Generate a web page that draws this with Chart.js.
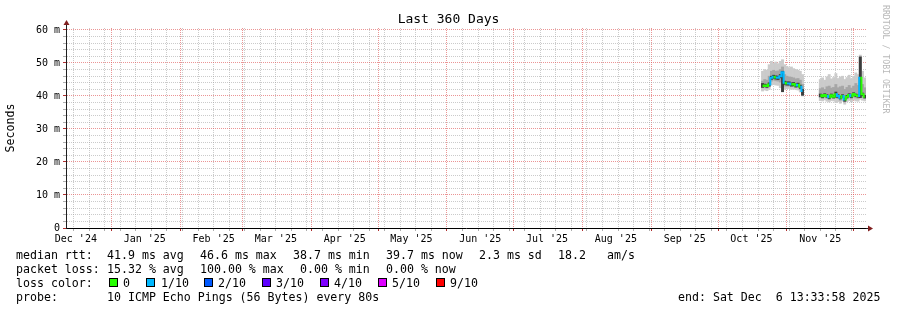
<!DOCTYPE html>
<html><head><meta charset="utf-8">
<script src="https://cdn.jsdelivr.net/npm/chart.js@4.4.1/dist/chart.umd.min.js"></script>
<style>
html,body{margin:0;padding:0;background:#fff;}
#wrap{position:relative;width:897px;height:310px;overflow:hidden;font-family:"DejaVu Sans Mono",monospace;color:#000;}
#c{position:absolute;left:0;top:0;}
.t{position:absolute;white-space:pre;font-size:11.6px;line-height:14px;}
.title{position:absolute;left:0;width:897px;text-align:center;top:11px;font-size:13px;line-height:16px;white-space:pre;}
.credit{position:absolute;left:881px;top:5px;writing-mode:vertical-rl;font-size:8.2px;line-height:9px;color:#b8b8b8;white-space:pre;}
.sq{position:absolute;width:9px;height:9px;border:1px solid #000;box-sizing:border-box;top:278px;}
</style>
</head>
<body>
<div id="wrap">
<canvas id="c" width="897" height="310"></canvas>
<div class="title">Last 360 Days</div>
<div class="credit">RRDTOOL / TOBI OETIKER</div>
<div id="legend"></div>
</div>
<script>
// ---- axis / tick data (x = days since 1 Jan 2025) ----
const X_MIN = -20.435;            // Wed Dec 11 13:33:58 2024
const X_MAX = 339.565;            // Sat Dec  6 13:33:58 2025
const Y_MAX = 60.6;
const monthStartDays = [0, 31, 59, 90, 120, 151, 181, 212, 243, 273, 304, 334];
const monthLabelDays = [-16, 15, 46, 74, 105, 135, 166, 196, 227, 258, 288, 319];
const monthLabels = ["Dec '24", "Jan '25", "Feb '25", "Mar '25", "Apr '25", "May '25", "Jun '25", "Jul '25", "Aug '25", "Sep '25", "Oct '25", "Nov '25"];
const yLabelValues = [0, 10, 20, 30, 40, 50, 60];
const yLabels = ["0", "10 m", "20 m", "30 m", "40 m", "50 m", "60 m"];

// ---- series: segment 1 (late Oct - early Nov) ----
const days1   = [293, 294, 295, 296, 297, 298, 299, 300, 301, 302, 303, 304, 305, 306, 307, 308, 309, 310, 311];
const median1 = [43.0, 43.2, 43.0, 43.5, 45.5, 45.8, 45.6, 45.5, 46.0, 47.2, 44.0, 43.8, 43.8, 43.5, 43.6, 43.2, 43.4, 42.8, 41.5];
const loss1   = [0, 0, 0, 0, 1, 1, 0, 1, 1, 1, 1, 0, 1, 1, 0, 0, 1, 0, 1];
const max1    = [47.5, 48.0, 47.8, 49.5, 50.5, 50.0, 50.3, 49.8, 50.5, 51.0, 49.5, 49.0, 48.6, 48.8, 48.3, 48.0, 47.8, 47.5, 46.5];
const min1    = [41.5, 41.8, 41.6, 42.0, 43.3, 43.5, 43.3, 43.2, 42.5, 41.2, 42.0, 42.2, 42.3, 42.0, 42.1, 41.9, 41.8, 41.2, 40.0];
const upper1  = [44.5, 45.0, 44.8, 46.0, 47.5, 47.8, 47.5, 47.6, 48.0, 48.8, 46.5, 46.0, 45.8, 45.7, 45.5, 45.2, 45.3, 44.8, 43.5];
const lower1  = [42.5, 42.6, 42.4, 42.8, 44.5, 44.8, 44.6, 44.5, 44.2, 41.8, 43.0, 43.0, 43.0, 42.8, 42.8, 42.6, 42.6, 42.0, 40.8];
const coreHi1 = [43.8, 43.6, 43.4, 44.0, 46.0, 46.3, 46.1, 46.0, 46.5, 47.5, 44.5, 44.3, 44.3, 44.0, 44.1, 43.7, 43.9, 43.3, 42.0];
const coreLo1 = [42.6, 42.8, 42.6, 43.0, 45.0, 45.3, 45.1, 45.0, 45.5, 41.3, 43.5, 43.3, 43.3, 43.0, 43.1, 42.7, 42.9, 42.3, 40.2];

// ---- series: segment 2 (mid Nov - 6 Dec) ----
const days2   = [319, 320, 321, 322, 323, 324, 325, 326, 327, 328, 329, 330, 331, 332, 333, 334, 335, 336, 337, 338, 339];
const median2 = [40.2, 39.9, 40.3, 40.0, 39.6, 40.2, 39.8, 40.5, 40.0, 39.5, 40.0, 38.9, 39.8, 40.3, 39.9, 40.6, 40.2, 40.0, 45.5, 40.5, 39.8];
const loss2   = [0, 0, 0, 0, 1, 0, 0, 0, 1, 1, 0, 1, 0, 0, 1, 0, 0, 0, 1, 0, 0];
const max2    = [45.0, 45.5, 44.8, 45.8, 46.5, 45.2, 45.6, 46.8, 45.3, 45.8, 46.0, 45.0, 45.6, 46.3, 45.2, 46.0, 47.0, 46.5, 52.4, 47.5, 45.5];
const min2    = [38.6, 38.5, 38.8, 38.4, 38.2, 38.6, 38.5, 38.0, 38.3, 37.8, 38.4, 37.5, 38.3, 38.6, 38.2, 38.8, 38.5, 38.4, 39.0, 38.7, 38.5];
const upper2  = [42.2, 42.5, 42.0, 42.8, 43.0, 42.4, 42.6, 43.5, 42.5, 42.8, 43.0, 42.0, 42.6, 43.2, 42.4, 43.0, 43.8, 43.2, 52.0, 43.5, 42.5];
const lower2  = [39.5, 39.2, 39.6, 39.3, 38.9, 39.5, 39.2, 39.4, 39.2, 38.7, 39.3, 38.2, 39.1, 39.5, 39.1, 39.7, 39.4, 39.3, 40.0, 39.6, 39.2];
const coreHi2 = [40.6, 40.3, 40.7, 40.4, 40.0, 40.6, 40.2, 41.2, 40.4, 39.9, 40.4, 39.4, 40.2, 40.7, 40.3, 41.0, 40.6, 40.4, 51.8, 40.9, 40.2];
const coreLo2 = [39.8, 39.5, 39.9, 39.6, 39.2, 39.8, 39.4, 39.6, 39.6, 39.1, 39.6, 38.4, 39.4, 39.9, 39.5, 40.2, 39.8, 39.6, 39.5, 40.1, 39.4];

// ---- loss legend ----
const lossLabels = ["0", "1/10", "2/10", "3/10", "4/10", "5/10", "9/10"];
const lossColors = ["#26ff00", "#00b8ff", "#0059ff", "#5e00ff", "#7e00ff", "#dd00ff", "#ff0000"];

// ---- legend text ----
const legendRows = [
  {top: 247.5, items: [[16, "median rtt:"], [107, "41.9 ms avg"], [200, "46.6 ms max"], [293, "38.7 ms min"], [386, "39.7 ms now"], [479, "2.3 ms sd"], [558, "18.2"], [607, "am/s"]]},
  {top: 261.5, items: [[16, "packet loss:"], [107, "15.32 % avg"], [200, "100.00 % max"], [300, "0.00 % min"], [386, "0.00 % now"]]},
  {top: 275.5, items: [[16, "loss color:"]]},
  {top: 289.5, items: [[16, "probe:"], [107, "10 ICMP Echo Pings (56 Bytes) every 80s"], [678, "end: Sat Dec  6 13:33:58 2025"]]}
];
const lossSquareX = [109, 146, 204, 262, 320, 378, 436];
const lossTextX   = [123, 161, 218, 276, 334, 392, 450];

// build HTML legend
const lg = document.getElementById('legend');
legendRows.forEach(r => r.items.forEach(([x, s]) => {
  const d = document.createElement('div'); d.className = 't';
  d.style.left = x + 'px'; d.style.top = r.top + 'px'; d.textContent = s; lg.appendChild(d);
}));
lossLabels.forEach((s, i) => {
  const q = document.createElement('div'); q.className = 'sq';
  q.style.left = lossSquareX[i] + 'px'; q.style.background = lossColors[i]; lg.appendChild(q);
  const d = document.createElement('div'); d.className = 't';
  d.style.left = lossTextX[i] + 'px'; d.style.top = '275.5px'; d.textContent = s; lg.appendChild(d);
});

// ---- datasets built from arrays ----
const band = (d1, lo1, hi1, d2, lo2, hi2) =>
  d1.map((d, i) => ({x: d, y: [lo1[i], hi1[i]]})).concat(d2.map((d, i) => ({x: d, y: [lo2[i], hi2[i]]})));
const medianPts = days1.map((d, i) => ({x: d, y: median1[i], l: loss1[i]}))
  .concat([{x: 315, y: null, l: 0}])
  .concat(days2.map((d, i) => ({x: d, y: median2[i], l: loss2[i]})));

const MAJOR = 'rgba(222,79,79,0.6)';
const MINOR = 'rgba(160,160,160,0.55)';
const NONE = 'rgba(0,0,0,0)';
const isWeek = v => Number.isInteger(v) && ((v + 17) % 7 === 0);

const arrows = {
  id: 'arrows',
  afterDraw(chart) {
    const {ctx, chartArea: a} = chart;
    ctx.save();
    ctx.strokeStyle = '#1f1f1f'; ctx.lineWidth = 1;
    ctx.beginPath();
    ctx.moveTo(a.left + 0.5, a.top); ctx.lineTo(a.left + 0.5, a.top - 4);
    ctx.moveTo(a.right, a.bottom + 0.5); ctx.lineTo(a.right + 3, a.bottom + 0.5);
    ctx.stroke();
    ctx.fillStyle = '#801f1f';
    ctx.beginPath();
    ctx.moveTo(a.left + 0.5, a.top - 8); ctx.lineTo(a.left - 2.5, a.top - 3); ctx.lineTo(a.left + 3.5, a.top - 3); ctx.closePath();
    ctx.fill();
    ctx.beginPath();
    ctx.moveTo(a.right + 7, a.bottom + 0.5); ctx.lineTo(a.right + 2, a.bottom - 2.5); ctx.lineTo(a.right + 2, a.bottom + 3.5); ctx.closePath();
    ctx.fill();
    ctx.restore();
  }
};

const barCommon = {type: 'bar', grouped: false, barPercentage: 1, categoryPercentage: 1, borderWidth: 0, borderSkipped: false};

new Chart(document.getElementById('c'), {
  type: 'bar',
  data: {
    datasets: [
      {...barCommon, label: 'max-min', data: band(days1, min1, max1, days2, min2, max2), backgroundColor: '#cbcbcb', order: 4},
      {...barCommon, label: 'inner', data: band(days1, lower1, upper1, days2, lower2, upper2), backgroundColor: '#a6a6a6', order: 3},
      {...barCommon, label: 'core', data: band(days1, coreLo1, coreHi1, days2, coreLo2, coreHi2), backgroundColor: '#3c3c3c', order: 2},
      {type: 'line', label: 'median rtt', data: medianPts, order: 1, borderWidth: 2, pointRadius: 0, stepped: 'middle', spanGaps: false,
        borderColor: lossColors[0],
        segment: {borderColor: c => lossColors[c.p1.raw.l] }}
    ]
  },
  options: {
    responsive: false, animation: false,
    layout: {padding: {top: 28, right: 31, bottom: 0, left: 0}},
    plugins: {legend: {display: false}, tooltip: {enabled: false}, title: {display: false}},
    scales: {
      x: {
        type: 'linear', min: X_MIN, max: X_MAX, z: 1, offset: false, bounds: 'data',
        afterFit: s => { s.height = 82; s.paddingLeft = 0; s.paddingRight = 0; },
        afterBuildTicks: s => {
          const vals = new Set();
          for (let d = -17; d <= 339; d += 7) vals.add(d);
          monthStartDays.forEach(d => vals.add(d));
          monthLabelDays.forEach(d => vals.add(d));
          s.ticks = [...vals].filter(v => v >= X_MIN && v <= X_MAX).sort((a, b) => a - b).map(v => ({value: v}));
        },
        ticks: {
          autoSkip: false, maxRotation: 0, minRotation: 0, padding: 2, color: '#000',
          font: {family: 'DejaVu Sans Mono', size: 10},
          callback: v => { const i = monthLabelDays.indexOf(v); return i >= 0 ? monthLabels[i] : ''; }
        },
        grid: {
          offset: false, lineWidth: 1, tickLength: 3, drawTicks: true,
          color: c => { const v = c.tick && c.tick.value; return monthStartDays.includes(v) ? MAJOR : (isWeek(v) ? MINOR : NONE); },
          tickColor: c => { const v = c.tick && c.tick.value; return monthStartDays.includes(v) ? '#b03030' : (isWeek(v) ? 'rgba(120,120,120,0.6)' : NONE); }
        },
        border: {display: true, color: '#000', width: 1, dash: [1, 1]}
      },
      y: {
        type: 'linear', min: 0, max: Y_MAX, z: 1, beginAtZero: true,
        afterFit: s => { s.width = 66; s.paddingTop = 0; s.paddingBottom = 0; },
        afterBuildTicks: s => {
          const t = []; for (let v = 0; v <= 60; v += 2) t.push({value: v});
          s.ticks = t;
        },
        ticks: {
          autoSkip: false, padding: 3, color: '#000',
          font: {family: 'DejaVu Sans Mono', size: 10},
          callback: v => { const i = yLabelValues.indexOf(v); return i >= 0 ? yLabels[i] : ''; }
        },
        grid: {
          offset: false, lineWidth: 1, tickLength: 3, drawTicks: true,
          color: c => { const v = c.tick && c.tick.value; return v === 0 ? NONE : (v % 10 === 0 ? MAJOR : MINOR); },
          tickColor: c => { const v = c.tick && c.tick.value; return v % 10 === 0 ? '#b03030' : 'rgba(120,120,120,0.6)'; }
        },
        border: {display: true, color: '#1f1f1f', width: 1, dash: [1, 1]},
        title: {display: true, text: 'Seconds', color: '#000', font: {family: 'DejaVu Sans Mono', size: 11.6}, padding: {top: 4, bottom: 0}}
      }
    }
  },
  plugins: [arrows]
});
</script>
</body></html>
